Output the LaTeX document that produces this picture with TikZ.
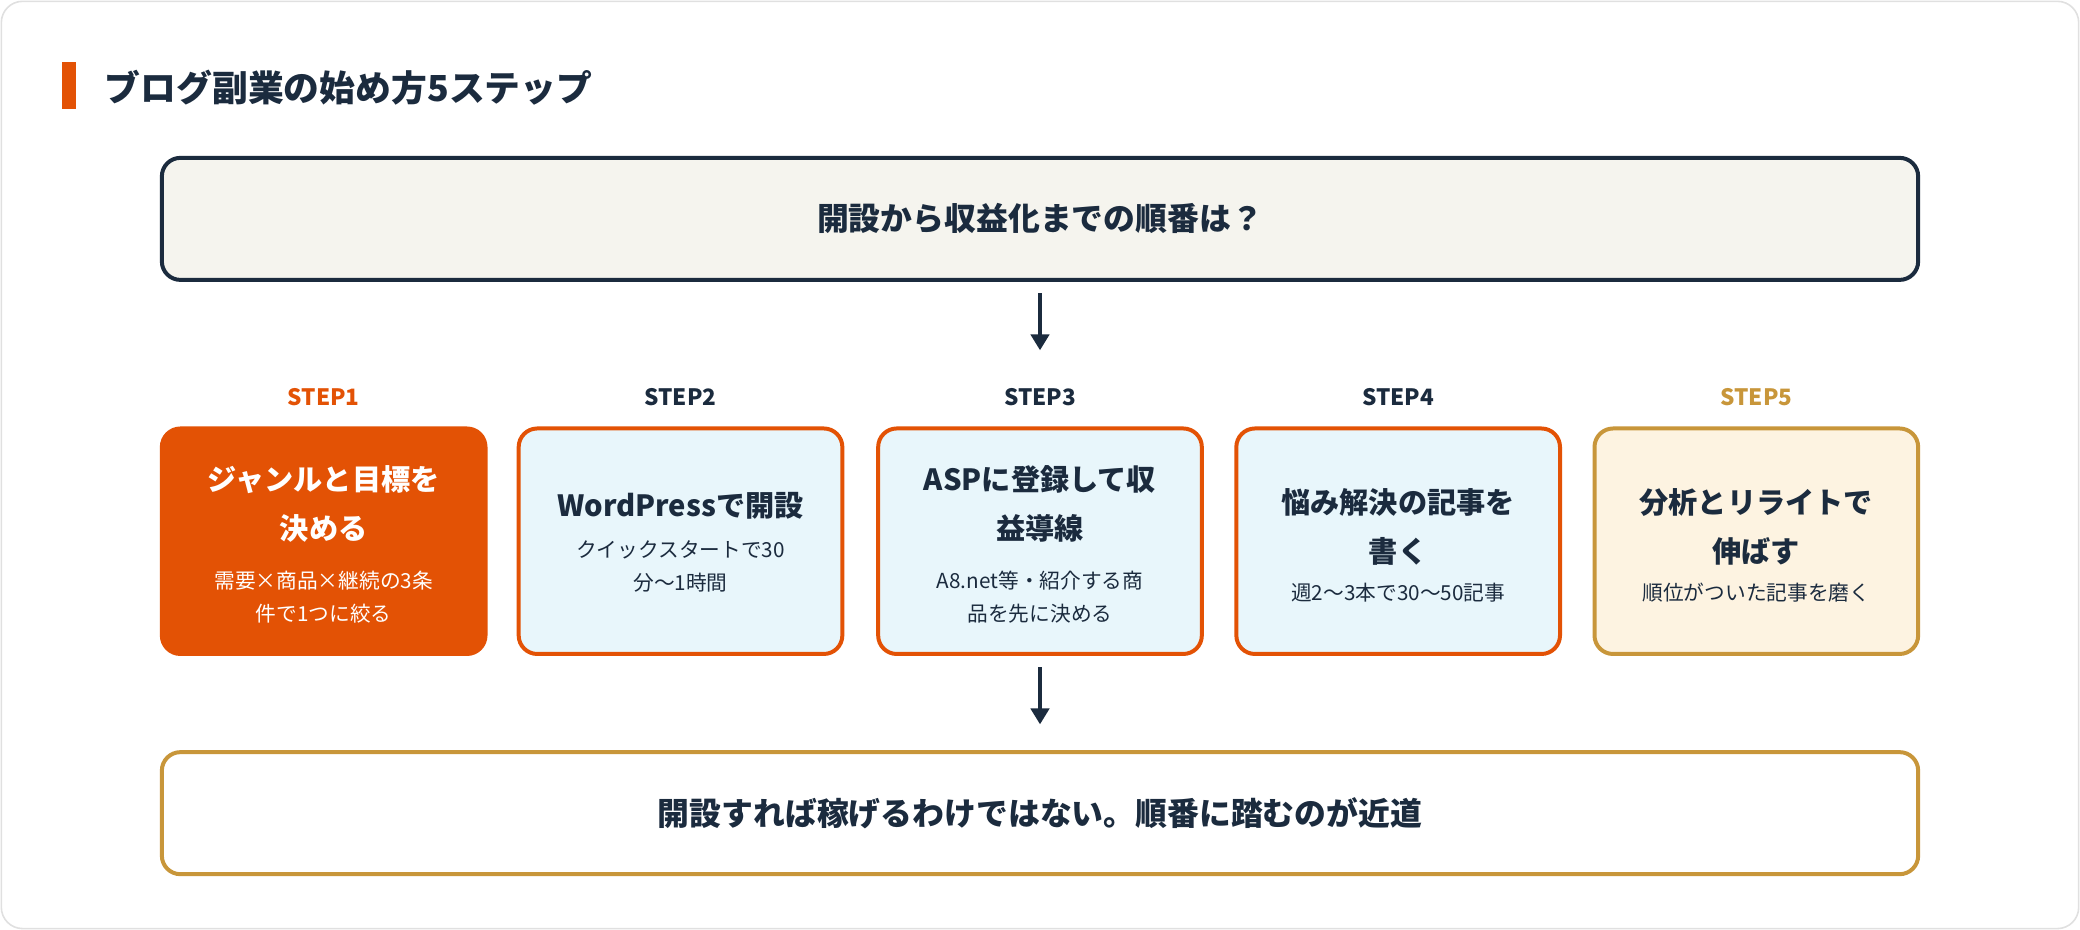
\documentclass[tikz,border=0pt]{standalone}
\usepackage{fontspec}
\setmainfont{Noto Sans CJK JP}
\usetikzlibrary{arrows.meta}
\definecolor{navy}{HTML}{1B2B3E}
\definecolor{org}{HTML}{E35205}
\definecolor{gold}{HTML}{C8963A}
\definecolor{lblue}{HTML}{E8F6FB}
\definecolor{cream}{HTML}{FDF3E1}
\definecolor{grayf}{HTML}{F5F4EE}
\tikzset{
 stepbox/.style={draw=org,line width=1.5pt,rounded corners=7pt,fill=lblue,minimum width=122pt,minimum height=85pt,text=navy},
 steplab/.style={font=\bfseries\fontsize{8.5}{10}\selectfont,text=navy},
 mtxt/.style={text=navy,align=center,inner sep=0,font=\bfseries\fontsize{11}{18.5}\selectfont},
 stxt/.style={text=navy,align=center,inner sep=0,font=\fontsize{7.8}{12.5}\selectfont},
 arr/.style={-{Triangle[length=6pt,width=7pt]},line width=1.2pt,draw=navy}
}
\begin{document}
\begin{tikzpicture}[x=0.5pt,y=-0.5pt]
\useasboundingbox (0,0) rectangle (1568,701);
\draw[draw=black!12,fill=white,rounded corners=8pt,line width=0.6pt] (1,1) rectangle (1567,700);
\fill[org] (47,47) rectangle (57,82);
\node[anchor=west,text=navy,font=\bfseries\fontsize{13.5}{16}\selectfont] (title) at (72,66) {ブログ副業の始め方5ステップ};
\node[draw=navy,line width=1.5pt,rounded corners=7pt,fill=grayf,minimum width=662pt,minimum height=46pt,text=navy,font=\bfseries\fontsize{12}{14}\selectfont] (top) at (784,165) {開設から収益化までの順番は？};
\coordinate (a1) at (784,221);
\coordinate (a2) at (784,264);
\draw[arr] (a1) -- (a2);
\node[steplab,text=org] (l1) at (244,299) {STEP1};
\node[steplab] (l2) at (513,299) {STEP2};
\node[steplab] (l3) at (784,299) {STEP3};
\node[steplab] (l4) at (1054,299) {STEP4};
\node[steplab,text=gold] (l5) at (1324,299) {STEP5};
\node[stepbox,fill=org,text=white] (s1) at (244,408) {};
\node[stepbox] (s2) at (513,408) {};
\node[stepbox] (s3) at (784,408) {};
\node[stepbox] (s4) at (1054,408) {};
\node[stepbox,draw=gold,fill=cream] (s5) at (1324,408) {};
\node[mtxt,text=white] (m1) at (244,380) {ジャンルと目標を\\決める};
\node[stxt,text=white] (u1) at (244,450) {需要×商品×継続の3条\\件で1つに絞る};
\node[mtxt] (m2) at (513,381) {WordPressで開設};
\node[stxt] (u2) at (513,427) {クイックスタートで30\\分〜1時間};
\node[mtxt] (m3) at (784,380) {ASPに登録して収\\益導線};
\node[stxt] (u3) at (784,450) {A8.net等・紹介する商\\品を先に決める};
\node[mtxt] (m4) at (1054,397) {悩み解決の記事を\\書く};
\node[stxt] (u4) at (1054,447) {週2〜3本で30〜50記事};
\node[mtxt] (m5) at (1324,397) {分析とリライトで\\伸ばす};
\node[stxt] (u5) at (1324,447) {順位がついた記事を磨く};
\coordinate (b1) at (784,503);
\coordinate (b2) at (784,546);
\draw[arr] (b1) -- (b2);
\node[draw=gold,line width=1.5pt,rounded corners=7pt,fill=white,minimum width=662pt,minimum height=46pt,text=navy,font=\bfseries\fontsize{12}{14}\selectfont] (bot) at (784,613) {開設すれば稼げるわけではない。順番に踏むのが近道};
\end{tikzpicture}
\end{document}
